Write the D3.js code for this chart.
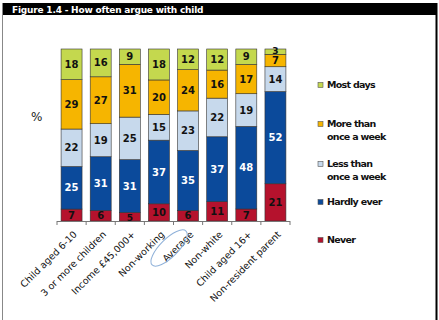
<!DOCTYPE html>
<html><head><meta charset="utf-8">
<script src="https://cdn.jsdelivr.net/npm/d3@7"></script>
<style>body{margin:0;background:#fff}svg{display:block}</style>
</head><body>
<script>
const categories = ["Child aged 6-10","3 or more children","Income £45,000+","Non-working","Average","Non-white","Child aged 16+","Non-resident parent"];
const seriesNames = ["Never","Hardly ever","Less than once a week","More than once a week","Most days"];
const never      = [7, 6, 5, 10, 6, 11, 7, 21];
const hardlyEver = [25, 31, 31, 37, 35, 37, 48, 52];
const lessThan   = [22, 19, 25, 15, 23, 22, 19, 14];
const moreThan   = [29, 27, 31, 20, 24, 16, 17, 7];
const mostDays   = [18, 16, 9, 18, 12, 12, 9, 3];
const colors = ["#b5122d","#0b4a9b","#c7d9ec","#f6b500","#c4d84e"];
const labelColors = ["#111","#fff","#111","#111","#111"];
const legendLines = [["Most days"],["More than","once a week"],["Less than","once a week"],["Hardly ever"],["Never"]];

const W=439,H=320;
const svg=d3.select("body").append("svg").attr("width",W).attr("height",H);

// frame
svg.append("rect").attr("x",2).attr("y",3).attr("width",435).attr("height",12).attr("fill","#000");
svg.append("line").attr("x1",2.5).attr("x2",2.5).attr("y1",3).attr("y2",H).attr("stroke","#888").attr("stroke-width",1);
svg.append("line").attr("x1",436.5).attr("x2",436.5).attr("y1",3).attr("y2",H).attr("stroke","#000").attr("stroke-width",2);
svg.append("text").attr("x",12).attr("y",13).attr("fill","#fff").attr("font-family","DejaVu Sans").attr("font-weight","bold").attr("font-size",9).attr("letter-spacing",-0.2).text("Figure 1.4 - How often argue with child");

const series=[never,hardlyEver,lessThan,moreThan,mostDays];
const x=d3.scaleBand().domain(categories).range([57,290]).paddingInner(0.28).paddingOuter(0.14);
const y=d3.scaleLinear().domain([0,1]).range([221,49]);

categories.forEach((c,i)=>{
  const tot=d3.sum(series,s=>s[i]);
  let acc=0;
  series.forEach((s,k)=>{
    const v=s[i]/tot;
    const y0=acc, y1=acc+v; acc=y1;
    svg.append("rect").attr("x",x(c)).attr("y",y(y1)).attr("width",x.bandwidth()).attr("height",y(y0)-y(y1))
      .attr("fill",colors[k]).attr("stroke","#333").attr("stroke-width",0.6);
    const small = (y(y0)-y(y1))<10;
    svg.append("text").attr("x",x(c)+x.bandwidth()/2).attr("y",(y(y0)+y(y1))/2+(small?(k===4?2.2:4.2):3.6))
      .attr("text-anchor","middle").attr("font-family","DejaVu Sans").attr("font-weight","bold").attr("font-size",small?9:10)
      .attr("fill",labelColors[k]).text(s[i]);
  });
});

// axis
const ax=svg.append("g");
ax.append("line").attr("x1",57).attr("x2",290).attr("y1",221.5).attr("y2",221.5).attr("stroke","#777");
const step=x.step();
const bounds=[57].concat(categories.map(c=>x(c)+x.bandwidth()+(step-x.bandwidth())/2));
bounds.forEach(b=>ax.append("line").attr("x1",b).attr("x2",b).attr("y1",221).attr("y2",225).attr("stroke","#777"));

categories.forEach(c=>{
  const cx=x(c)+x.bandwidth()/2+2, cy=231;
  svg.append("text").attr("transform",`translate(${cx},${cy}) rotate(-45)`).attr("text-anchor","end").attr("dy","0.6em")
    .attr("font-family","DejaVu Sans").attr("font-size",9.5).attr("fill","#111").text(c);
});
// ellipse around Average
{
  const c="Average"; const cx=x(c)+x.bandwidth()/2-19, cy=248;
  svg.append("ellipse").attr("transform",`translate(${cx},${cy}) rotate(-45)`).attr("rx",24).attr("ry",9)
    .attr("fill","none").attr("stroke","#8fb1d9").attr("stroke-width",1);
}

svg.append("text").attr("x",31).attr("y",121).attr("font-family","DejaVu Sans").attr("font-size",12).attr("fill","#222").text("%");

// legend
const legY=[88,127,167,205,243];
legendLines.forEach((lines,i)=>{
  const k=4-i;
  svg.append("rect").attr("x",318).attr("y",legY[i]-5.5).attr("width",5).attr("height",5).attr("fill",colors[k]).attr("stroke","#555").attr("stroke-width",0.6);
  lines.forEach((t,j)=>{
    svg.append("text").attr("x",327).attr("y",legY[i]+j*12.5).attr("font-family","DejaVu Sans").attr("font-weight","bold").attr("font-size",9.5).attr("letter-spacing",-0.7).attr("fill","#111").text(t);
  });
});
</script>
</body></html>
